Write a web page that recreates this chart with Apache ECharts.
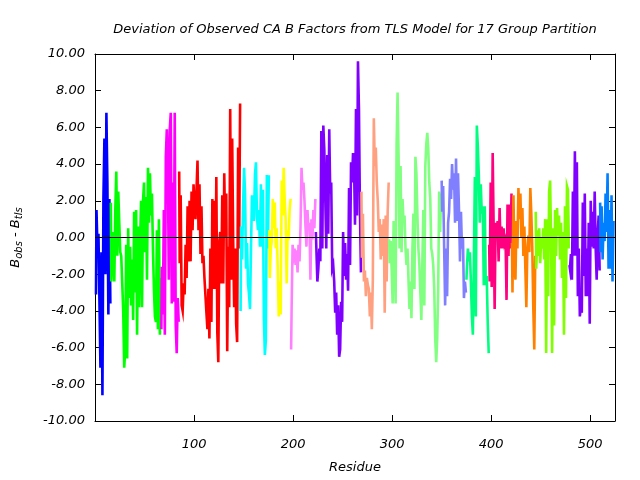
<!DOCTYPE html>
<html>
<head>
<meta charset="utf-8">
<script src="https://cdn.jsdelivr.net/npm/echarts@6/dist/echarts.min.js"></script>
<style>html,body{margin:0;padding:0;background:#fff;}#c{width:640px;height:480px;}</style>
</head>
<body>
<div id="c"></div>
<script>
const groupNames = ['g1','g2','g3','g4','g5','g6','g7','g8','g9','g10','g11','g12','g13','g14','g15','g16','g17'];
const groupStarts = [1,16,67,85,147,176,198,223,269,297,350,375,398,421,445,479,510];
const groupColors = ['#0000ff','#00ff00','#ff00ff','#ff0000','#00ffff','#ffff00','#ff80ff','#8000ff','#ffa080','#80ff80','#8080ff','#00ff80','#ff0080','#ff8000','#80ff00','#8000ff','#0080ff'];

const g1 = [-3.1,1.5,-0.6,0.2,-3.5,-7.1,-0.8,-8.6,2.1,5.4,-2.0,6.8,3.0,-4.2,2.1,-3.6];
const g2 = [1.9,-2.4,0.3,-1.0,-2.4,1.5,3.6,-1.0,2.5,0.8,-0.8,-1.0,-2.5,-4.0,-7.1,-6.1,-0.4,-6.6,0.5,-3.3,-0.5,-3.7,-1.2,-4.5,1.4,-3.0,1.5,-5.3,0.6,-3.8,-0.4,2.0,-3.8,2.0,3.0,-0.8,2.2,-2.3,3.8,0.8,3.5,1.2,2.4,-0.6,-2.8,-4.3,-4.6,0.4,-5.0,1.0,-5.3,-2.2];
const g3 = [-5.0,-1.6,-4.2,1.5,-5.3,4.4,5.9,4.4,-2.3,5.9,6.8,-3.6,3.0,-3.5,6.8,-4.8,-6.3,-3.3,-4.6];
const g4 = [3.6,-1.4,2.3,-3.7,-4.0,-2.5,-3.1,-0.4,-2.2,1.7,-1.3,2.0,-1.3,2.5,0.4,2.9,1.7,1.0,2.6,4.2,0.4,2.9,-0.9,1.7,-1.4,-1.0,-2.2,-2.3,-4.1,-5.0,-2.8,-5.5,-0.6,-4.6,2.1,-2.8,2.0,-2.8,3.3,-5.2,-6.8,-0.2,0.3,-2.5,2.3,-2.5,3.5,0.0,2.4,-6.2,-0.5,-3.8,7.0,-2.3,5.4,-0.1,-3.8,-0.6,-4.7,-5.7,4.9,-0.6,7.3];
const g5 = [-4.0,0.6,-1.2,1.7,3.8,2.4,-1.7,-0.3,-2.5,-3.1,-3.9,-0.6,2.3,1.7,0.9,3.4,4.1,1.2,0.4,1.5,-0.5,2.9,-0.5,2.6,-4.4,-6.4,-5.6,3.4,-0.6,3.4];
const g6 = [0.4,-2.2,-0.6,-0.2,2.1,0.5,1.9,-0.6,0.5,-1.7,-4.3,-2.4,-4.2,3.1,1.2,3.8,2.1,1.0,-2.5,0.4,-0.1,1.5,2.1];
const g7 = [-6.1,-3.9,-0.4,-1.0,-0.6,-1.5,-0.7,-1.9,-0.4,-1.3,0.6,3.8,2.6,3.0,2.0,0.6,-0.5,1.5,0.4,0.8,-2.3,1.0,-0.1,1.5,0.5,2.1];
const g8 = [0.3,-0.6,-2.4,-1.7,-0.6,-1.3,5.8,-0.6,6.1,4.8,4.8,-0.6,4.5,0.2,5.9,2.4,3.0,-1.7,-1.5,-2.4,-4.1,-3.0,-5.3,-3.7,-6.5,-6.1,-3.5,-4.6,0.3,-2.1,-0.3,-2.3,-0.9,-2.9,2.7,-1.5,4.1,3.0,4.6,4.1,0.7,7.0,1.2,9.6,7.0,1.4,-1.9];
const g9 = [2.5,-1.1,1.3,-2.4,-1.8,-3.2,-2.2,-2.6,-2.8,-4.3,-3.0,-5.0,-2.3,6.5,3.9,4.9,3.0,2.0,0.3,1.0,-1.2,0.7,-1.0,1.0,-4.1,1.2,-2.4,1.4,3.0];
const g10 = [-0.1,-1.4,-0.2,-1.7,-3.6,0.9,-0.1,-3.6,5.1,7.9,4.4,-0.6,3.9,-0.8,2.1,0.8,1.2,-0.6,-1.5,-0.6,-2.3,-3.9,-2.4,-4.4,-0.6,1.3,-2.8,4.4,3.5,1.2,-0.6,-1.5,-3.0,-4.5,-1.4,1.5,-3.7,3.9,5.1,5.7,4.8,3.0,2.1,-0.6,-0.9,-1.5,-2.8,-5.5,-6.8,-5.5,-2.8,2.5,0.3,2.4];
const g11 = [3.1,1.4,2.8,-0.5,-3.7,-0.6,-3.2,0.8,1.4,3.2,2.1,4.0,2.6,3.5,0.8,4.3,0.9,3.5,1.5,-1.3,1.4,-0.6,0.0,-3.3,-2.4,-3.0];
const g12 = [-2.3,-1.6,-0.6,-1.3,-0.8,-2.4,-4.3,-5.3,-1.3,3.3,-4.3,6.1,5.0,3.4,0.8,2.9,1.3,1.7,-2.6,1.7,-2.6,-2.1,-4.6,-6.3];
const g13 = [-0.4,-2.4,3.0,-2.7,4.6,0.5,-3.9,0.8,0.2,0.9,-1.3,1.6,-0.6,0.6,-0.6,0.5,-0.3,-0.1,-3.4,1.8,-1.0,1.8,-0.6,2.4];
const g14 = [-0.3,-3.0,2.3,-1.5,-2.3,0.9,-0.6,2.7,1.0,2.4,0.0,1.6,-1.0,0.6,-1.7,-3.8,-0.6,0.1,-0.8,2.7,1.3,-0.6,-3.8,-6.1,-1.0];
const g15 = [1.4,-1.7,0.4,-1.0,0.5,-1.4,0.0,-0.6,0.5,-1.2,1.0,-6.3,1.0,-3.2,2.5,3.1,-0.2,-6.3,0.5,-4.8,1.5,-1.0,1.6,0.1,1.2,-1.2,0.8,-2.2,0.3,-5.3,1.7,-3.3,2.8,2.6,-0.6];
const g16 = [-1.5,-1.7,-0.9,-2.3,2.5,-1.0,4.7,-1.0,4.1,-3.2,-0.6,-4.3,-3.8,-4.1,1.9,-2.1,2.4,-3.2,-0.6,-3.2,0.8,-4.7,2.0,-0.5,1.4,-0.6,2.5,-0.6,-2.3,0.2,1.2,-1.8];
const g17 = [1.9,-0.8,1.7,-1.2,0.8,-0.2,2.4,0.3,3.5,-1.7,1.5,-1.7,2.3,-2.4,0.9];

const groupValues = [g1,g2,g3,g4,g5,g6,g7,g8,g9,g10,g11,g12,g13,g14,g15,g16,g17];
const yTicks = [-10,-8,-6,-4,-2,0,2,4,6,8,10];
const xTicks = [100,200,300,400,500];

const FONT = 'DejaVu Sans';
const series = groupValues.map((vals, gi) => ({
  name: groupNames[gi],
  type: 'line',
  xAxisIndex: 0, yAxisIndex: 0,
  data: vals.map((v, i) => [groupStarts[gi] + i, v]),
  showSymbol: false,
  symbol: 'none',
  step: 'middle',
  lineStyle: { color: groupColors[gi], width: 2.6, cap: 'butt', join: 'miter' },
  itemStyle: { color: groupColors[gi] },
  z: 3,
  animation: false
}));
series.unshift({
  type: 'line', data: [], z: 2, silent: true, animation: false,
  markLine: { silent: true, symbol: 'none', label: { show: false },
    lineStyle: { color: '#000', width: 1, type: 'solid' },
    data: [{ yAxis: 0 }], animation: false }
});

const tickCommon = { show: true, inside: true, length: 6, lineStyle: { color: '#000', width: 1 } };
const chart = echarts.init(document.getElementById('c'), null, { renderer: 'canvas' });
chart.setOption({
  animation: false,
  backgroundColor: '#fff',
  title: {
    text: 'Deviation of Observed CA B Factors from TLS Model for 17 Group Partition',
    left: 350, top: 18, textAlign: 'center',
    textStyle: { fontFamily: FONT, fontStyle: 'italic', fontWeight: 'normal', fontSize: 13, color: '#000' }
  },
  grid: { left: 95, right: 25, top: 54, bottom: 59, containLabel: false },
  xAxis: [{
    type: 'value', min: 0, max: 525, interval: 100,
    axisLine: { show: true, onZero: false, lineStyle: { color: '#000', width: 1 } },
    axisTick: tickCommon,
    splitLine: { show: false },
    axisLabel: { showMinLabel: false, showMaxLabel: false, margin: 17, fontFamily: FONT, fontStyle: 'italic', fontSize: 13, color: '#000',
      formatter: v => xTicks.includes(v) ? String(v) : '' },
    name: 'Residue', nameLocation: 'middle', nameGap: 40,
    nameTextStyle: { fontFamily: FONT, fontStyle: 'italic', fontSize: 13, color: '#000' }
  }, {
    type: 'value', min: 0, max: 525, interval: 100, position: 'top',
    axisLine: { show: true, onZero: false, lineStyle: { color: '#000', width: 1 } },
    axisTick: tickCommon, axisLabel: { show: false }, splitLine: { show: false }
  }],
  yAxis: [{
    type: 'value', min: -10, max: 10, interval: 2,
    axisLine: { show: true, onZero: false, lineStyle: { color: '#000', width: 1 } },
    axisTick: tickCommon,
    splitLine: { show: false },
    axisLabel: { margin: 10, fontFamily: FONT, fontStyle: 'italic', fontSize: 13, color: '#000',
      formatter: v => yTicks.includes(v) ? v.toFixed(2) : '' },
    name: '{a|B}{s|obs}{a| - B}{s|tls}', nameLocation: 'middle', nameGap: 71, nameRotate: 90,
    nameTextStyle: { fontFamily: FONT, fontStyle: 'italic', fontSize: 13, color: '#000',
      rich: {
        a: { fontFamily: FONT, fontStyle: 'italic', fontSize: 13, color: '#000' },
        s: { fontFamily: FONT, fontStyle: 'italic', fontSize: 10, color: '#000', verticalAlign: 'bottom', padding: [7, 0, 0, 0] }
      } }
  }, {
    type: 'value', min: -10, max: 10, interval: 2, position: 'right',
    axisLine: { show: true, onZero: false, lineStyle: { color: '#000', width: 1 } },
    axisTick: tickCommon, axisLabel: { show: false }, splitLine: { show: false }
  }],
  series: series
});
</script>
</body>
</html>
